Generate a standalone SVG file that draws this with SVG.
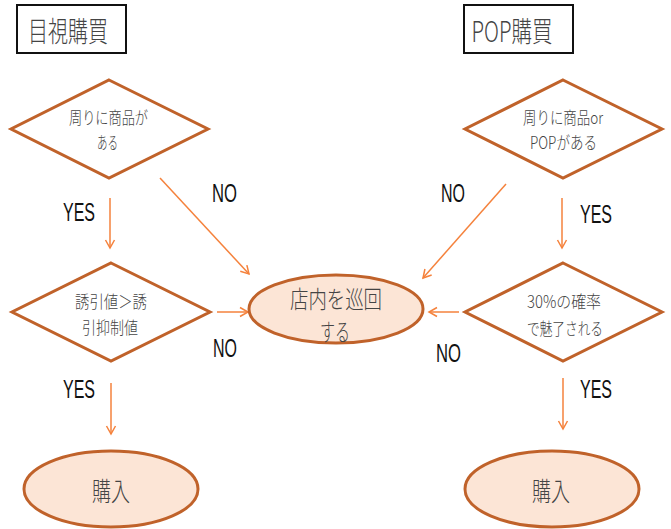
<svg xmlns="http://www.w3.org/2000/svg" width="671" height="529" viewBox="0 0 671 529">
<defs>
<style>
.title{fill:#fff;stroke:#111;stroke-width:2}
.dia{fill:#fff;stroke:#C0622A;stroke-width:3;stroke-linejoin:miter}
.ell{fill:#FCE5D6;stroke:#C0622A;stroke-width:3}
.jp{font-family:"Noto Sans CJK JP","Noto Sans",sans-serif;font-weight:300;fill:#444;text-anchor:middle}
.lbl{font-family:"Liberation Sans",Arial,sans-serif;font-size:25px;fill:#111;text-anchor:middle}
.arr{stroke:#F5823C;stroke-width:1.5;fill:none;marker-end:url(#ah)}
</style>
<marker id="ah" markerUnits="userSpaceOnUse" markerWidth="12" markerHeight="12" refX="9" refY="5" orient="auto" viewBox="0 0 12 10">
<path d="M1,0.5 L9,5 L1,9.5" fill="none" stroke="#F5823C" stroke-width="1.5"/>
</marker>
</defs>
<rect width="671" height="529" fill="#fff"/>

<g id="title-left">
<rect class="title" x="17" y="5" width="109" height="48"/>
<text class="jp" x="68" y="42" font-size="28" textLength="80" lengthAdjust="spacingAndGlyphs">目視購買</text>
</g>
<g id="title-right">
<rect class="title" x="464" y="5" width="109" height="48"/>
<text class="jp" x="512" y="42" font-size="28" textLength="81" lengthAdjust="spacingAndGlyphs">POP購買</text>
</g>

<g id="connectors">
<line class="arr" x1="110" y1="198" x2="110" y2="248"/>
<line class="arr" x1="160" y1="178" x2="249" y2="274"/>
<line class="arr" x1="506" y1="184" x2="423" y2="278"/>
<line class="arr" x1="562" y1="198" x2="562" y2="248"/>
<line class="arr" x1="217" y1="312" x2="248" y2="312"/>
<line class="arr" x1="459" y1="312" x2="429" y2="312"/>
<line class="arr" x1="111" y1="383" x2="111" y2="434"/>
<line class="arr" x1="563" y1="378" x2="563" y2="429"/>
<text class="lbl" x="79" y="221" textLength="32" lengthAdjust="spacingAndGlyphs">YES</text>
<text class="lbl" x="224.5" y="202" textLength="25" lengthAdjust="spacingAndGlyphs">NO</text>
<text class="lbl" x="453" y="202" textLength="24" lengthAdjust="spacingAndGlyphs">NO</text>
<text class="lbl" x="596" y="223" textLength="32" lengthAdjust="spacingAndGlyphs">YES</text>
<text class="lbl" x="225" y="357" textLength="24" lengthAdjust="spacingAndGlyphs">NO</text>
<text class="lbl" x="448.5" y="362" textLength="25" lengthAdjust="spacingAndGlyphs">NO</text>
<text class="lbl" x="79" y="398" textLength="32" lengthAdjust="spacingAndGlyphs">YES</text>
<text class="lbl" x="596" y="398" textLength="32" lengthAdjust="spacingAndGlyphs">YES</text>
</g>

<g id="d1">
<polygon class="dia" points="109,80 208,129 109,178 11,129"/>
<text class="jp" x="108.5" y="124" font-size="17" textLength="79" lengthAdjust="spacingAndGlyphs">周りに商品が</text>
<text class="jp" x="107.5" y="149" font-size="17" textLength="21" lengthAdjust="spacingAndGlyphs">ある</text>
</g>
<g id="d2">
<polygon class="dia" points="563,80 662,129 563,178 465,129"/>
<text class="jp" x="563" y="124" font-size="17" textLength="80" lengthAdjust="spacingAndGlyphs">周りに商品or</text>
<text class="jp" x="563.5" y="149" font-size="17" textLength="67" lengthAdjust="spacingAndGlyphs">POPがある</text>
</g>
<g id="d3">
<polygon class="dia" points="111,263 210,312 111,361 12,312"/>
<text class="jp" x="111" y="308" font-size="17" textLength="72" lengthAdjust="spacingAndGlyphs">誘引値＞誘</text>
<text class="jp" x="110" y="333.5" font-size="17" textLength="56" lengthAdjust="spacingAndGlyphs">引抑制値</text>
</g>
<g id="d4">
<polygon class="dia" points="563,263 662,312 563,361 465,312"/>
<text class="jp" x="564" y="308" font-size="17" textLength="74" lengthAdjust="spacingAndGlyphs">30%の確率</text>
<text class="jp" x="565" y="335" font-size="17" textLength="76" lengthAdjust="spacingAndGlyphs">で魅了される</text>
</g>
<g id="patrol">
<ellipse class="ell" cx="336" cy="309" rx="87" ry="34"/>
<text class="jp" x="336" y="308" font-size="24" textLength="92" lengthAdjust="spacingAndGlyphs">店内を巡回</text>
<text class="jp" x="335" y="341" font-size="24" textLength="30" lengthAdjust="spacingAndGlyphs">する</text>
</g>
<g id="buy-left">
<ellipse class="ell" cx="111" cy="489" rx="87" ry="38"/>
<text class="jp" x="111" y="500.5" font-size="26" textLength="38" lengthAdjust="spacingAndGlyphs">購入</text>
</g>
<g id="buy-right">
<ellipse class="ell" cx="552" cy="489" rx="87" ry="38"/>
<text class="jp" x="551" y="500.5" font-size="26" textLength="38" lengthAdjust="spacingAndGlyphs">購入</text>
</g>
</svg>
